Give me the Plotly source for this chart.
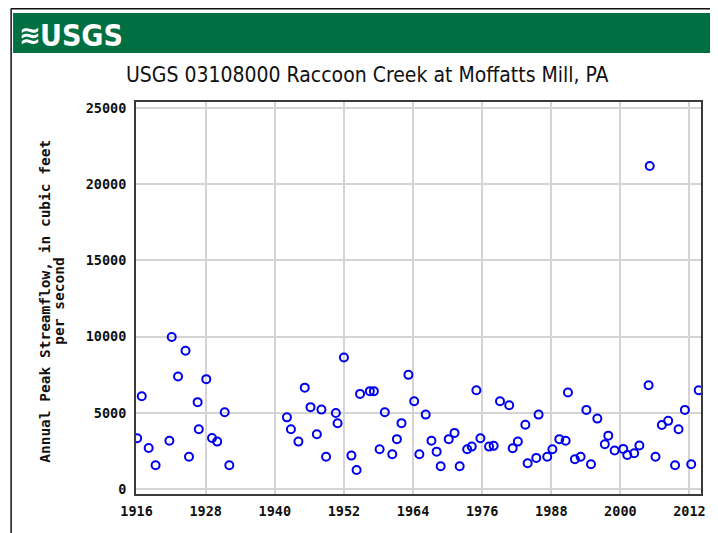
import plotly.graph_objects as go

# ---- data (date of annual peak as decimal year, cfs) ----
peak_year = [1916.1, 1916.9, 1918.1, 1919.3, 1921.7, 1922.1, 1923.2, 1924.5, 1925.1, 1926.6,
             1926.8, 1928.1, 1929.1, 1930.0, 1931.3, 1932.1, 1942.1, 1942.8, 1944.1, 1945.2,
             1946.2, 1947.3, 1948.1, 1948.9, 1950.6, 1950.9, 1952.0, 1953.3, 1954.2, 1954.8,
             1956.5, 1957.2, 1958.2, 1959.1, 1960.4, 1961.2, 1962.0, 1963.2, 1964.2, 1965.1,
             1966.2, 1967.2, 1968.1, 1968.8, 1970.2, 1971.2, 1972.1, 1973.4, 1974.2, 1975.0,
             1975.7, 1977.2, 1978.0, 1979.1, 1980.7, 1981.3, 1982.2, 1983.5, 1983.9, 1985.4,
             1985.8, 1987.3, 1988.2, 1989.4, 1990.5, 1990.9, 1992.1, 1993.1, 1994.1, 1994.9,
             1996.0, 1997.3, 1997.9, 1999.0, 2000.5, 2001.2, 2002.4, 2003.3, 2004.9, 2005.1,
             2006.1, 2007.2, 2008.3, 2009.5, 2010.1, 2011.2, 2012.3, 2013.6]
peak_cfs = [3330, 6090, 2690, 1560, 3170, 9970, 7380, 9070, 2120, 5700,
            3920, 7210, 3350, 3110, 5040, 1560, 4700, 3920, 3110, 6650,
            5370, 3590, 5210, 2120, 4990, 4310, 8630, 2190, 1250, 6240,
            6420, 6420, 2610, 5040, 2280, 3270, 4320, 7490, 5760, 2280,
            4880, 3170, 2450, 1490, 3270, 3680, 1490, 2610, 2780, 6480,
            3330, 2780, 2830, 5760, 5500, 2670, 3110, 4220, 1690, 2040,
            4880, 2120, 2610, 3270, 3170, 6330, 1950, 2120, 5190, 1620,
            4620, 2940, 3500, 2520, 2630, 2230, 2350, 2850, 6810, 21200,
            2120, 4200, 4470, 1560, 3920, 5190, 1620, 6480]

x_ticks = [1916, 1928, 1940, 1952, 1964, 1976, 1988, 2000, 2012]
x_tick_labels = ["1916", "1928", "1940", "1952", "1964", "1976", "1988", "2000", "2012"]
y_ticks = [0, 5000, 10000, 15000, 20000, 25000]
y_tick_labels = ["0", "5000", "10000", "15000", "20000", "25000"]

title_text = "USGS 03108000 Raccoon Creek at Moffatts Mill, PA"
y_title_1 = "Annual Peak Streamflow, in cubic feet"
y_title_2 = "per second"

# ---- layout geometry (pixels in the reference page; the page body adds an 8px margin) ----
OFF = 8
W, H = 718 - OFF, 533 - OFF
L, R, T, B = 136 - OFF, 706 - OFF, 102 - OFF, 494 - OFF


def px(x):
    return (x - OFF - L) / (R - L)


def py(y):
    return (B - (y - OFF)) / (B - T)


mono = "DejaVu Sans Mono"
narrow = "Liberation Sans Narrow, Arial Narrow, DejaVu Sans Condensed, Liberation Sans, Arial"

fig = go.Figure()
fig.add_trace(go.Scatter(
    x=peak_year, y=peak_cfs, mode="markers",
    marker=dict(symbol="circle-open", size=8, color="#0000ee",
                line=dict(width=2, color="#0000ee")),
    hoverinfo="x+y", showlegend=False,
))

axis_common = dict(
    showgrid=True, gridcolor="#d4d4d4", gridwidth=1.5,
    zeroline=False, showline=True, linecolor="#3a3a3a", linewidth=2, mirror=True,
    ticks="", tickfont=dict(family=mono, size=13.5, color="#111", weight="bold"),
)

fig.update_xaxes(range=[1915.9, 2014.0], tickvals=x_ticks, ticktext=x_tick_labels,
                 ticklabelstandoff=4, **axis_common)
fig.update_yaxes(range=[-330, 25400], tickvals=y_ticks, ticktext=y_tick_labels,
                 ticklabelstandoff=5, **axis_common)

shapes = [
    # outer frame
    dict(type="line", xref="paper", yref="paper", x0=px(10), x1=px(10), y0=py(8.5), y1=py(545),
         line=dict(color="#111", width=1.5)),
    dict(type="line", xref="paper", yref="paper", x0=px(10), x1=px(730), y0=py(8.7), y1=py(8.7),
         line=dict(color="#111", width=1.5)),
    # green USGS banner
    dict(type="rect", xref="paper", yref="paper", x0=px(12), x1=px(730), y0=py(53), y1=py(13),
         fillcolor="#006f41", line=dict(width=0), layer="below"),
]

annotations = [
    dict(text="≋", xref="paper", yref="paper", x=px(29), y=py(35), showarrow=False,
         xanchor="center", yanchor="middle",
         font=dict(family="DejaVu Sans", size=26, color="white", weight="bold")),
    dict(text="USGS", xref="paper", yref="paper", x=px(37), y=py(35), showarrow=False,
         xanchor="left", yanchor="middle",
         font=dict(family=narrow, size=30, color="white", weight="bold")),
    dict(text=title_text, xref="paper", yref="paper", x=px(370), y=py(75), showarrow=False,
         xanchor="center", yanchor="middle",
         font=dict(family=narrow, size=21, color="#111")),
    dict(text=y_title_1, xref="paper", yref="paper", x=px(44), y=py(301), showarrow=False,
         xanchor="center", yanchor="middle", textangle=-90,
         font=dict(family=mono, size=14.5, color="#111", weight="bold")),
    dict(text=y_title_2, xref="paper", yref="paper", x=px(58), y=py(301), showarrow=False,
         xanchor="center", yanchor="middle", textangle=-90,
         font=dict(family=mono, size=14.5, color="#111", weight="bold")),
]

fig.update_layout(
    width=W, height=H,
    margin=dict(l=L, r=W - R, t=T, b=H - B, pad=0),
    paper_bgcolor="white", plot_bgcolor="white",
    shapes=shapes, annotations=annotations,
    showlegend=False,
)

fig.write_html("out.html", config={"displayModeBar": False})
